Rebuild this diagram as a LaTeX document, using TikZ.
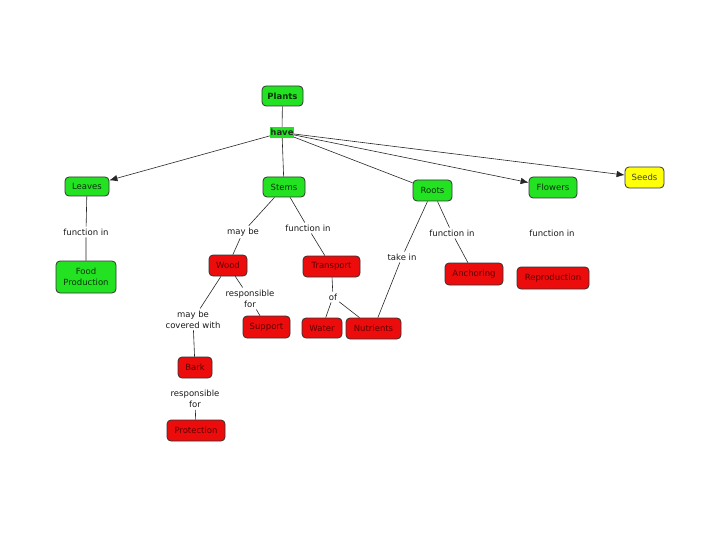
\documentclass[tikz,border=0pt]{standalone}
\usepackage{fontspec}
\setmainfont{DejaVu Sans}
\usetikzlibrary{arrows.meta}
\definecolor{cgreen}{RGB}{34,226,34}
\definecolor{cred}{RGB}{236,12,12}
\definecolor{cyellow}{RGB}{255,255,10}
\definecolor{gtext}{RGB}{10,50,10}
\definecolor{rtext}{RGB}{95,0,0}
\begin{document}
\begin{tikzpicture}[x=1pt,y=-1pt,
  box/.style={draw=black!80, rounded corners=4pt, line width=0.8pt, inner sep=0pt, align=center,
    font=\fontsize{8.5}{11}\selectfont},
  gbox/.style={box, fill=cgreen, text=gtext},
  rbox/.style={box, fill=cred, text=rtext},
  ybox/.style={box, fill=cyellow, text=black!75},
  lbl/.style={inner sep=2pt, align=center, text=black!90, font=\fontsize{8.5}{11}\selectfont},
  con/.style={draw=black!85, line width=0.6pt},
  arr/.style={con, -{Latex[length=8pt,width=6.5pt]}}]
\useasboundingbox (0,0) rectangle (720,540);

% concepts
\node[gbox, minimum width=41pt, minimum height=20pt] (plants) at (282.5,96) {\textbf{Plants}};
\node[fill=cgreen, inner sep=0pt, minimum width=24pt, minimum height=11pt, font=\fontsize{8.5}{10}\selectfont\bfseries, text=black!85] (have) at (282,132.5) {have};
\node[gbox, minimum width=44pt, minimum height=19pt] (leaves) at (87,186.5) {Leaves};
\node[gbox, minimum width=42pt, minimum height=20pt] (stems) at (284,187) {Stems};
\node[gbox, minimum width=39pt, minimum height=21pt] (roots) at (432.5,190.5) {Roots};
\node[gbox, minimum width=48pt, minimum height=21pt] (flowers) at (553,187.5) {Flowers};
\node[ybox, minimum width=39pt, minimum height=21pt] (seeds) at (644.5,177.5) {Seeds};
\node[gbox, minimum width=60pt, minimum height=32pt] (food) at (86,277) {Food\\Production};
\node[rbox, minimum width=38pt, minimum height=21pt] (wood) at (228,265.5) {Wood};
\node[rbox, minimum width=57pt, minimum height=21pt] (transport) at (331.5,266.5) {Transport};
\node[rbox, minimum width=58pt, minimum height=22pt] (anchoring) at (474,274) {Anchoring};
\node[rbox, minimum width=72pt, minimum height=22pt] (repro) at (553,278) {Reproduction};
\node[rbox, minimum width=47pt, minimum height=22pt] (support) at (266.5,327) {Support};
\node[rbox, minimum width=40pt, minimum height=20pt] (water) at (322,328) {Water};
\node[rbox, minimum width=55pt, minimum height=21pt] (nutrients) at (373.5,328.5) {Nutrients};
\node[rbox, minimum width=34pt, minimum height=21pt] (bark) at (195,367.5) {Bark};
\node[rbox, minimum width=58pt, minimum height=21pt] (protection) at (196,430.5) {Protection};

% linking phrases
\node[lbl] (lfi) at (86,232) {function in};
\node[lbl] (smb) at (243,232) {may be};
\node[lbl] (sfi) at (308,228) {function in};
\node[lbl] (rti) at (402,257) {take in};
\node[lbl] (rfi) at (452,233) {function in};
\node[lbl] (ffi) at (552,233) {function in};
\node[lbl] (wrf) at (250,298.5) {responsible\\for};
\node[lbl] (tof) at (333,297) {of};
\node[lbl] (wmc) at (193,319.5) {may be\\covered with};
\node[lbl] (brf) at (195,399) {responsible\\for};

% connectors
\draw[con] (plants) -- (have);
\draw[arr] (have) -- (leaves);
\draw[con] (have) -- (stems);
\draw[con] (have) -- (roots);
\draw[arr] (have) -- (flowers);
\draw[arr] (have) -- (seeds);
\draw[con] (leaves) -- (lfi) -- (food);
\draw[con] (stems) -- (smb) -- (wood);
\draw[con] (stems) -- (sfi) -- (transport);
\draw[con] (roots) -- (rti) -- (nutrients);
\draw[con] (roots) -- (rfi) -- (anchoring);
\draw[con] (transport) -- (tof) -- (water);
\draw[con] (tof) -- (nutrients);
\draw[con] (wood) -- (wrf) -- (support);
\draw[con] (wood) -- (wmc) -- (bark);
\draw[con] (brf) -- (protection);
\end{tikzpicture}
\end{document}
